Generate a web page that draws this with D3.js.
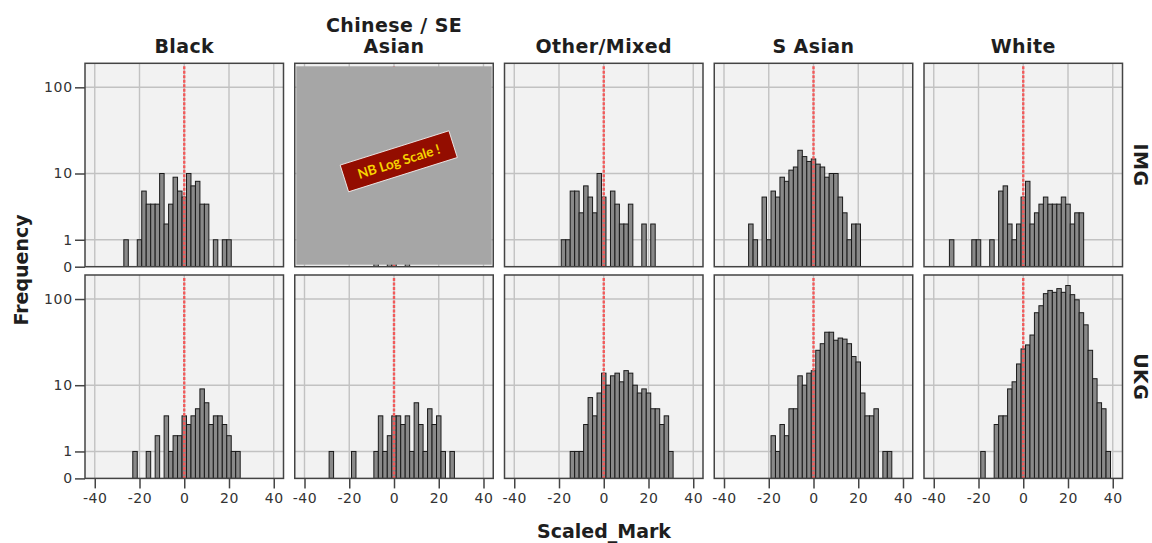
<!DOCTYPE html>
<html><head><meta charset="utf-8">
<script src="https://cdn.jsdelivr.net/npm/d3@7"></script>
<style>body{margin:0;background:#fff}svg{display:block}</style>
</head><body>
<svg id="chart" width="1152" height="543"></svg>
<script>
// ---- data ----
const columns = ["Black", "Chinese / SE Asian", "Other/Mixed", "S Asian", "White"];
const rowsLab = ["IMG", "UKG"];
const binCenters = [-32,-30,-28,-26,-24,-22,-20,-18,-16,-14,-12,-10,-8,-6,-4,-2,0,2,4,6,8,10,12,14,16,18,20,22,24,26,28,30,32,34,36,38];
const binWidth = 2;
const xTickValues = [-40, -20, 0, 20, 40];
const yTickValues = [0, 1, 10, 100];
const yTickLabels = ["0", "1", "10", "100"];

const black_IMG   = [0,0,0,1,0,0,1,6,4,4,4,10,2,4,9,6,5,10,7,8,4,4,0,1,0,1,1,0,0,0,0,0,0,0,0,0];
const black_UKG   = [0,0,0,0,0,1,0,0,1,0,2,0,4,1,2,2,4,3,4,5,9,6,3,4,4,3,2,1,1,0,0,0,0,0,0,0];
const chinese_IMG = [0,0,0,0,0,0,0,0,0,0,0,0,1,0,0,1,1,0,0,1,0,0,0,0,0,0,0,0,0,0,0,0,0,0,0,0];
const chinese_UKG = [0,0,1,0,0,0,0,1,0,0,0,0,1,4,1,2,4,4,3,4,1,6,3,1,5,3,4,1,0,1,0,0,0,0,0,0];
const other_IMG   = [0,0,0,0,0,0,0,1,1,6,6,3,7,5,3,10,5,0,6,4,2,2,4,0,0,2,0,2,0,0,0,0,0,0,0,0];
const other_UKG   = [0,0,0,0,0,0,0,0,0,1,1,1,3,7,4,8,14,10,13,14,11,15,14,10,8,9,8,5,5,3,4,1,0,0,0,0];
const sasian_IMG  = [0,0,2,1,0,5,1,6,5,9,8,11,12,19,16,14,15,13,12,9,10,10,5,3,1,2,2,0,0,0,0,0,0,0,0,0];
const sasian_UKG  = [0,0,0,0,0,0,0,2,1,3,2,5,5,13,10,14,15,26,31,42,42,34,36,35,31,22,19,8,4,4,5,0,1,1,0,0];
const white_IMG   = [1,0,0,0,0,1,1,0,0,1,0,6,7,2,1,2,5,8,2,3,4,5,4,4,4,5,4,2,3,3,0,0,0,0,0,0];
const white_UKG   = [0,0,0,0,0,0,0,1,0,0,3,4,4,9,11,18,27,30,39,70,84,115,125,119,131,119,142,112,98,70,51,26,12,6,5,1];

const panelCounts = [
  [black_IMG, chinese_IMG, other_IMG, sasian_IMG, white_IMG],
  [black_UKG, chinese_UKG, other_UKG, sasian_UKG, white_UKG]
];

// ---- layout ----
const svg = d3.select("#chart");
const colX0 = 85, colStep = 209.75, pw = 198.5;
const rowY0 = 63.3, rowStep = 211.7, ph = 203.4;
const xHalf = 44.36, yMax = 186.4;
const titleFont = "'DejaVu Sans', sans-serif";

for (let r = 0; r < 2; r++) {
  for (let c = 0; c < 5; c++) {
    const x0 = colX0 + c * colStep, y0 = rowY0 + r * rowStep;
    const xs = d3.scaleLinear().domain([-xHalf, xHalf]).range([x0, x0 + pw]);
    const ys = d3.scaleSymlog().constant(1).domain([0, yMax]).range([y0 + ph, y0]);
    const g = svg.append("g");
    const clipId = `clip${r}${c}`;
    svg.append("clipPath").attr("id", clipId).append("rect")
      .attr("x", x0).attr("y", y0).attr("width", pw).attr("height", ph);
    g.append("rect").attr("x", x0).attr("y", y0).attr("width", pw).attr("height", ph).attr("fill", "#f2f2f2");
    const inner = g.append("g").attr("clip-path", `url(#${clipId})`);
    // grid
    inner.selectAll(".gx").data(xTickValues).join("line")
      .attr("x1", d => xs(d)).attr("x2", d => xs(d)).attr("y1", y0).attr("y2", y0 + ph)
      .attr("stroke", "#c2c2c2").attr("stroke-width", 1.4);
    inner.selectAll(".gy").data(yTickValues.filter(v => v > 0)).join("line")
      .attr("y1", d => ys(d)).attr("y2", d => ys(d)).attr("x1", x0).attr("x2", x0 + pw)
      .attr("stroke", "#c2c2c2").attr("stroke-width", 1.4);
    // bars
    const data = binCenters.map((b, i) => ({b, n: panelCounts[r][c][i]})).filter(d => d.n > 0);
    inner.selectAll(".bar").data(data).join("rect")
      .attr("x", d => xs(d.b - binWidth / 2))
      .attr("width", d => xs(d.b + binWidth / 2) - xs(d.b - binWidth / 2))
      .attr("y", d => ys(d.n))
      .attr("height", d => ys(0) - ys(d.n))
      .attr("fill", "#898989").attr("stroke", "#1a1a1a").attr("stroke-width", 1);
    // zero line
    inner.append("line").attr("x1", xs(0)).attr("x2", xs(0)).attr("y1", y0 + 3).attr("y2", y0 + ph)
      .attr("stroke", "#f25a5a").attr("stroke-width", 2.4).attr("stroke-dasharray", "3,1.5");
    // overlay on Chinese IMG
    if (r === 0 && c === 1) {
      g.append("rect").attr("x", x0 + 1.5).attr("y", y0 + 3).attr("width", pw - 3).attr("height", ph - 5)
        .attr("fill", "#a6a6a6");
      const lab = g.append("g").attr("transform", `translate(${x0 + 104},${y0 + 98}) rotate(-17.5)`);
      lab.append("rect").attr("x", -57).attr("y", -14).attr("width", 114).attr("height", 28)
        .attr("fill", "#930d00").attr("stroke", "#f5f5f5").attr("stroke-width", 0.8);
      lab.append("text").attr("x", 0).attr("y", 5).attr("text-anchor", "middle")
        .attr("font-family", "Lato, sans-serif").attr("font-weight", "bold").attr("font-size", 13.5)
        .attr("fill", "#f7d400").text("NB Log Scale !");
    }
    // frame
    g.append("rect").attr("x", x0).attr("y", y0).attr("width", pw).attr("height", ph)
      .attr("fill", "none").attr("stroke", "#444").attr("stroke-width", 1.5);

    // y axis on first column
    if (c === 0) {
      const ax = svg.append("g").attr("transform", `translate(${x0},0)`)
        .call(d3.axisLeft(ys).tickValues(yTickValues).tickFormat((d, i) => yTickLabels[i]).tickSize(10).tickPadding(2));
      ax.select(".domain").remove();
      ax.selectAll(".tick line").attr("stroke", "#444").attr("stroke-width", 1.5);
      ax.selectAll(".tick text").attr("font-family", titleFont).attr("font-size", 14)
        .attr("letter-spacing", 0.8).attr("fill", "#333");
    }
    // x axis on bottom row
    if (r === 1) {
      const ax = svg.append("g").attr("transform", `translate(0,${y0 + ph})`)
        .call(d3.axisBottom(xs).tickValues(xTickValues).tickFormat(d => String(d)).tickSize(10).tickPadding(5));
      ax.select(".domain").remove();
      ax.selectAll(".tick line").attr("stroke", "#444").attr("stroke-width", 1.5);
      ax.selectAll(".tick text").attr("font-family", titleFont).attr("font-size", 14)
        .attr("letter-spacing", 0.6).attr("fill", "#333");
    }
  }
}

// column titles
columns.forEach((name, c) => {
  const cx = colX0 + c * colStep + pw / 2;
  const t = svg.append("text").attr("text-anchor", "middle")
    .attr("font-family", titleFont).attr("font-weight", "bold").attr("font-size", 19)
    .attr("letter-spacing", 0.4).attr("fill", "#1e1e1e");
  if (name === "Chinese / SE Asian") {
    t.append("tspan").attr("x", cx).attr("y", 32).text("Chinese / SE");
    t.append("tspan").attr("x", cx).attr("y", 53).text("Asian");
  } else {
    t.attr("x", cx).attr("y", 53).text(name);
  }
});
// row labels
rowsLab.forEach((name, r) => {
  const cy = rowY0 + r * rowStep + ph / 2;
  svg.append("text").attr("transform", `translate(1134,${cy}) rotate(90)`)
    .attr("text-anchor", "middle").attr("font-family", titleFont).attr("font-weight", "bold")
    .attr("font-size", 19).attr("letter-spacing", 0.4).attr("fill", "#1e1e1e").text(name);
});
// axis titles
svg.append("text").attr("transform", "translate(28,270) rotate(-90)").attr("text-anchor", "middle")
  .attr("font-family", titleFont).attr("font-weight", "bold").attr("font-size", 19).attr("fill", "#1e1e1e")
  .text("Frequency");
svg.append("text").attr("x", 604).attr("y", 538).attr("text-anchor", "middle")
  .attr("font-family", titleFont).attr("font-weight", "bold").attr("font-size", 19).attr("fill", "#1e1e1e")
  .text("Scaled_Mark");
</script>
</body></html>
